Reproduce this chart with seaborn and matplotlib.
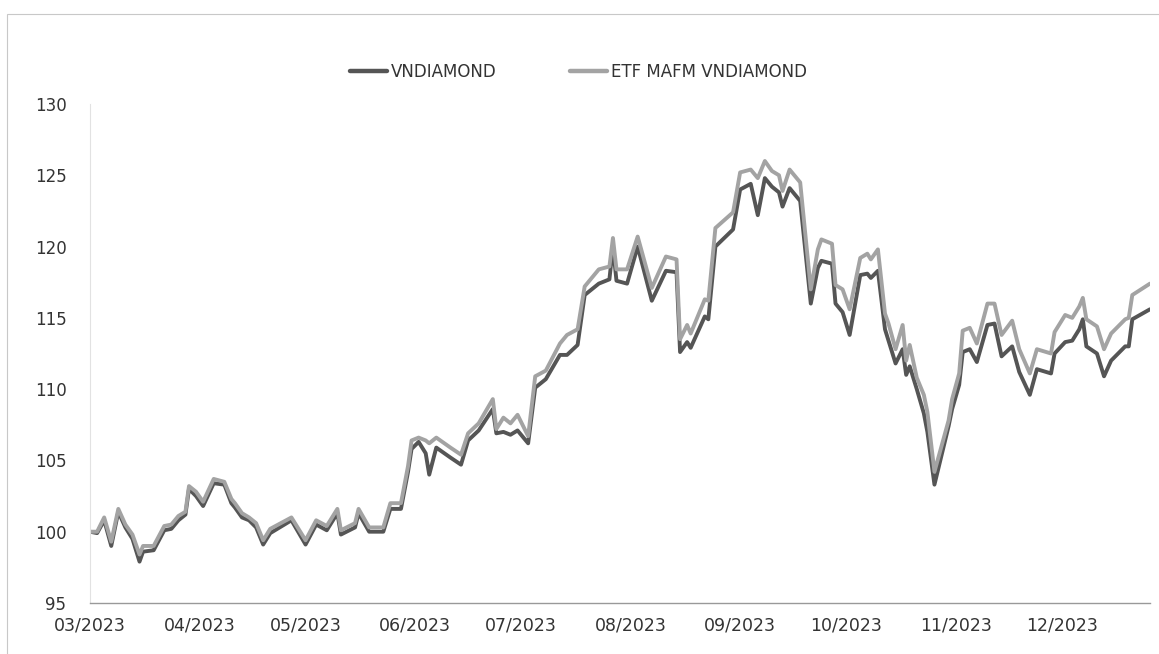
import matplotlib
matplotlib.use("Agg")
import matplotlib.pyplot as plt
import matplotlib.dates as mdates
from matplotlib.patches import Rectangle
import seaborn as sns
import pandas as pd

dates = [
    "2023-03-01", "2023-03-03", "2023-03-05", "2023-03-07", "2023-03-09", "2023-03-11",
    "2023-03-13", "2023-03-15", "2023-03-16", "2023-03-19", "2023-03-22", "2023-03-24",
    "2023-03-26", "2023-03-28", "2023-03-29", "2023-03-31", "2023-04-02", "2023-04-05",
    "2023-04-08", "2023-04-10", "2023-04-11", "2023-04-13", "2023-04-15", "2023-04-17",
    "2023-04-19", "2023-04-21", "2023-04-27", "2023-05-01", "2023-05-04", "2023-05-07",
    "2023-05-10", "2023-05-11", "2023-05-15", "2023-05-16", "2023-05-19", "2023-05-23",
    "2023-05-25", "2023-05-28", "2023-05-30", "2023-05-31", "2023-06-02", "2023-06-04",
    "2023-06-05", "2023-06-07", "2023-06-11", "2023-06-14", "2023-06-16", "2023-06-19",
    "2023-06-23", "2023-06-24", "2023-06-26", "2023-06-28", "2023-06-30", "2023-07-03",
    "2023-07-05", "2023-07-08", "2023-07-12", "2023-07-14", "2023-07-17", "2023-07-19",
    "2023-07-23", "2023-07-26", "2023-07-27", "2023-07-28", "2023-07-31", "2023-08-03",
    "2023-08-07", "2023-08-11", "2023-08-14", "2023-08-15", "2023-08-17", "2023-08-18",
    "2023-08-22", "2023-08-23", "2023-08-25", "2023-08-30", "2023-09-01", "2023-09-04",
    "2023-09-06", "2023-09-08", "2023-09-10", "2023-09-12", "2023-09-13", "2023-09-15",
    "2023-09-18", "2023-09-21", "2023-09-23", "2023-09-24", "2023-09-27", "2023-09-28",
    "2023-09-30", "2023-10-02", "2023-10-05", "2023-10-07", "2023-10-08", "2023-10-10",
    "2023-10-12", "2023-10-13", "2023-10-15", "2023-10-17", "2023-10-18", "2023-10-19",
    "2023-10-21", "2023-10-23", "2023-10-24", "2023-10-26", "2023-10-30", "2023-10-31",
    "2023-11-02", "2023-11-03", "2023-11-05", "2023-11-07", "2023-11-10", "2023-11-12",
    "2023-11-14", "2023-11-17", "2023-11-19", "2023-11-22", "2023-11-24", "2023-11-28",
    "2023-11-29", "2023-12-02", "2023-12-04", "2023-12-06", "2023-12-07", "2023-12-08",
    "2023-12-11", "2023-12-13", "2023-12-15", "2023-12-19", "2023-12-20", "2023-12-21",
    "2023-12-26",
]

vndiamond = [
    100.0, 99.9, 100.8, 99.0, 101.4, 100.3,
    99.5, 97.9, 98.6, 98.7, 100.1, 100.2,
    100.8, 101.2, 103.0, 102.5, 101.8, 103.4,
    103.3, 102.0, 101.7, 101.0, 100.8, 100.3,
    99.1, 99.9, 100.8, 99.1, 100.5, 100.1,
    101.3, 99.8, 100.3, 101.3, 100.0, 100.0,
    101.6, 101.6, 104.2, 105.8, 106.3, 105.5,
    104.0, 105.9, 105.2, 104.7, 106.4, 107.1,
    108.6, 106.9, 107.0, 106.8, 107.1, 106.2,
    110.1, 110.7, 112.4, 112.4, 113.1, 116.6,
    117.4, 117.7, 120.0, 117.6, 117.4, 120.0,
    116.2, 118.3, 118.2, 112.6, 113.3, 112.9,
    115.1, 114.9, 120.0, 121.2, 124.0, 124.4,
    122.2, 124.8, 124.2, 123.8, 122.8, 124.1,
    123.2, 116.0, 118.5, 119.0, 118.8, 116.0,
    115.4, 113.8, 118.0, 118.1, 117.8, 118.3,
    114.2, 113.4, 111.8, 112.8, 111.0, 111.6,
    110.0, 108.3, 107.0, 103.3, 107.4, 108.6,
    110.3, 112.6, 112.8, 111.9, 114.5, 114.6,
    112.3, 113.0, 111.2, 109.6, 111.4, 111.1,
    112.5, 113.3, 113.4, 114.2, 114.9, 113.0,
    112.5, 110.9, 112.0, 113.0, 113.0, 114.9,
    115.6,
]

etf_mafm = [
    100.0, 100.0, 101.0, 99.3, 101.6, 100.5,
    99.8, 98.4, 99.0, 99.0, 100.4, 100.5,
    101.1, 101.4, 103.2, 102.8, 102.1, 103.7,
    103.5, 102.3, 102.0, 101.3, 101.0, 100.6,
    99.4, 100.2, 101.0, 99.4, 100.8, 100.4,
    101.6, 100.1, 100.6, 101.6, 100.3, 100.3,
    102.0, 102.0, 104.6, 106.4, 106.6, 106.4,
    106.2, 106.6, 105.9, 105.4, 106.9, 107.6,
    109.3, 107.2, 108.0, 107.6, 108.2, 106.7,
    110.9, 111.3, 113.2, 113.8, 114.2, 117.2,
    118.4, 118.6, 120.6, 118.4, 118.4, 120.7,
    117.1, 119.3, 119.1, 113.5, 114.5, 113.9,
    116.3, 116.2, 121.3, 122.4, 125.2, 125.4,
    124.8, 126.0, 125.3, 125.0, 123.9, 125.4,
    124.5, 117.0, 119.8, 120.5, 120.2, 117.3,
    117.0, 115.6, 119.2, 119.5, 119.1, 119.8,
    115.3, 114.6, 112.8, 114.5, 112.0, 113.1,
    110.8, 109.6, 108.4, 104.2, 107.8, 109.3,
    111.1, 114.1, 114.3, 113.2, 116.0, 116.0,
    113.8, 114.8, 112.8, 111.1, 112.8, 112.5,
    114.0, 115.2, 115.0, 115.8, 116.4, 114.9,
    114.4, 112.8, 113.9, 114.9, 115.0, 116.6,
    117.4,
]

series_names = ["VNDIAMOND", "ETF MAFM VNDIAMOND"]
y_ticks = [95, 100, 105, 110, 115, 120, 125, 130]

sns.set_style("white")
plt.rcParams["font.family"] = ["DejaVu Sans"]

d = pd.to_datetime(dates)
df = pd.concat([
    pd.DataFrame({"date": d, "value": vndiamond, "series": series_names[0]}),
    pd.DataFrame({"date": d, "value": etf_mafm, "series": series_names[1]}),
])

fig = plt.figure(figsize=(11.59, 6.54), dpi=100)
ax = fig.add_axes([0.0777, 0.078, 0.9145, 0.763])

palette = {series_names[0]: "#555555", series_names[1]: "#a3a3a3"}
sns.lineplot(data=df, x="date", y="value", hue="series", palette=palette,
             linewidth=2.8, ax=ax, legend=False)

ax.set_xlim(d[0], d[-1])
ax.set_ylim(95, 130)
ax.set_yticks(y_ticks)
ax.set_yticklabels([str(t) for t in y_ticks])
ax.xaxis.set_major_locator(mdates.MonthLocator())
ax.xaxis.set_major_formatter(mdates.DateFormatter("%m/%Y"))
ax.set_xlabel("")
ax.set_ylabel("")

for s in ["top", "right"]:
    ax.spines[s].set_visible(False)
ax.spines["left"].set_color("#e2e2e2")
ax.spines["left"].set_linewidth(0.8)
ax.spines["bottom"].set_color("#999999")
ax.spines["bottom"].set_linewidth(1.0)

ax.tick_params(axis="y", length=0, pad=17, labelsize=12, labelcolor="#333333")
ax.tick_params(axis="x", length=4, width=0.8, color="#999999", direction="out",
               pad=6, labelsize=12.5, labelcolor="#333333")

from matplotlib.lines import Line2D
handles = [Line2D([], [], color=palette[n], linewidth=3.2) for n in series_names]
fig.legend(handles, series_names, loc="center", bbox_to_anchor=(0.499, 0.89),
           ncol=2, frameon=False, fontsize=12, handlelength=2.2,
           handletextpad=0.25, columnspacing=4.4, labelcolor="#333333")

fig.patches.append(Rectangle((0.006, -0.05), 1.2, 0.05 + 0.979, transform=fig.transFigure,
                             fill=False, edgecolor="#c8c8c8", linewidth=0.8))

fig.savefig("out.png", dpi=100, facecolor="white")
